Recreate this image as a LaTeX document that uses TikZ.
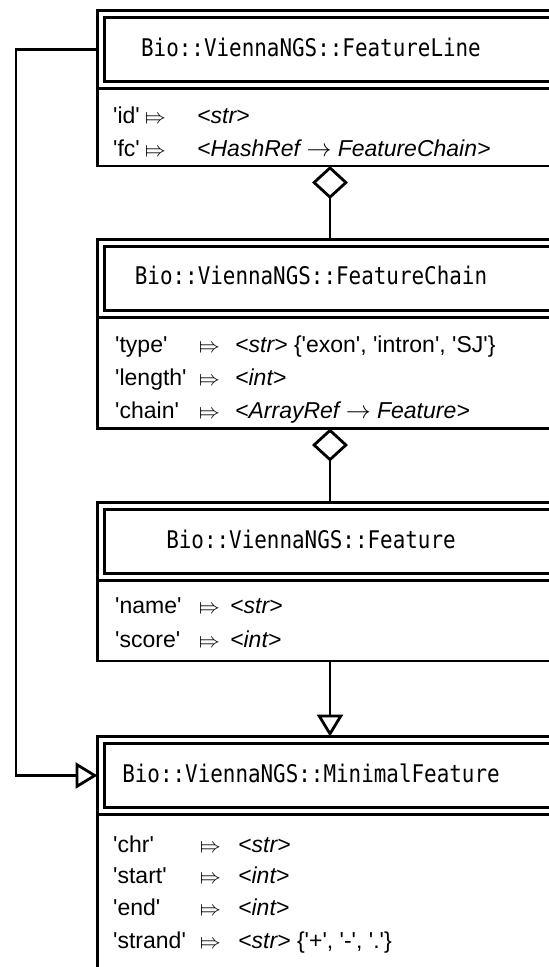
\documentclass[tikz,border=0pt]{standalone}
\usepackage{fontspec}
\setmainfont{Liberation Sans}
\newfontfamily\titlefont[FakeStretch=0.86]{DejaVu Sans Mono}
\newfontfamily\dejavusans{DejaVu Sans}
\IfFileExists{stmaryrd.sty}{\usepackage{stmaryrd}\newcommand\mapsarrow{{\fontsize{20}{20}\selectfont$\Mapsto$}}}{\newcommand\mapsarrow{{\dejavusans\fontsize{16}{16}\selectfont ⤇}}}
\usetikzlibrary{arrows.meta}
\newcommand\sq[1]{\textquotesingle#1\textquotesingle}
\tikzset{
  frame/.style={draw, line width=2.8pt, inner sep=0pt, outer sep=0pt, anchor=north west},
  ttl/.style={anchor=base, inner sep=0pt, font=\titlefont\fontsize{24.3}{28}\selectfont},
  key/.style={anchor=base west, inner sep=0pt, font=\fontsize{23}{28}\selectfont},
  val/.style={anchor=base west, inner sep=0pt, font=\fontsize{23}{28}\selectfont\itshape},
  agg/.style={line width=2.8pt, {Diamond[open,length=33pt,width=36pt]}-},
  inh/.style={line width=2.8pt, -{Triangle[open,length=22pt,width=26pt]}},
}
\newcommand\umlclass[4]{%
  \node[frame, minimum width=465pt, minimum height=78pt] (#1head) at (97.5,#2) {};
  \node[frame, minimum width=451pt, minimum height=64pt] (#1inner) at (104.5,#2+7) {};
  \node[frame, minimum width=465pt, minimum height=#4] (#1attr) at (97.5,#2+78) {};
  \node[ttl] (#1title) at (311,#2+45.5) {#3};
}
\newcommand\attrrow[7]{%
  \node[key] (#1k) at (#3,#2) {#6};
  \node[key] (#1a) at (#4,#2) {\mapsarrow};
  \node[val] (#1v) at (#5,#2) {#7};
}
\begin{document}
\begin{tikzpicture}[x=1pt,y=-1pt]
\useasboundingbox (0,0) rectangle (549,967);
\clip (0,0) rectangle (549,967);
\fill[white] (0,0) rectangle (549,967);

\umlclass{fl}{10.7}{Bio::ViennaNGS::FeatureLine}{77.3pt}
\umlclass{fc}{239.3}{Bio::ViennaNGS::FeatureChain}{111.2pt}
\umlclass{ft}{502.7}{Bio::ViennaNGS::Feature}{80.3pt}
\umlclass{mf}{736.5}{Bio::ViennaNGS::MinimalFeature}{300pt}

\attrrow{fla}{123}{113}{145}{197}{\sq{id}}{<str>}
\attrrow{flb}{156}{113}{145}{197}{\sq{fc}}{<HashRef $\rightarrow$ FeatureChain>}

\attrrow{fca}{352}{115}{199}{235}{\sq{type}}{<str> {\upshape\{\sq{exon}, \sq{intron}, \sq{SJ}\}}}
\attrrow{fcb}{385}{115}{199}{235}{\sq{length}}{<int>}
\attrrow{fcc}{418}{115}{199}{235}{\sq{chain}}{<ArrayRef $\rightarrow$ Feature>}

\attrrow{fta}{613}{115}{199}{230}{\sq{name}}{<str>}
\attrrow{ftb}{647}{115}{199}{230}{\sq{score}}{<int>}

\attrrow{mfa}{852}{113}{200}{238}{\sq{chr}}{<str>}
\attrrow{mfb}{883}{113}{200}{238}{\sq{start}}{<int>}
\attrrow{mfc}{915}{113}{200}{238}{\sq{end}}{<int>}
\attrrow{mfd}{948}{113}{200}{238}{\sq{strand}}{<str> {\upshape\{\sq{+}, \sq{-}, \sq{.}\}}}

\draw[agg] (flattr.south) -- (fchead.north);
\draw[agg] (fcattr.south) -- (fthead.north);
\draw[inh] (ftattr.south) -- (mfhead.north);
\coordinate (lane) at (16,400);
\draw[inh] (flhead.west) -- (flhead.west -| lane) |- (mfhead.west);
\end{tikzpicture}
\end{document}
